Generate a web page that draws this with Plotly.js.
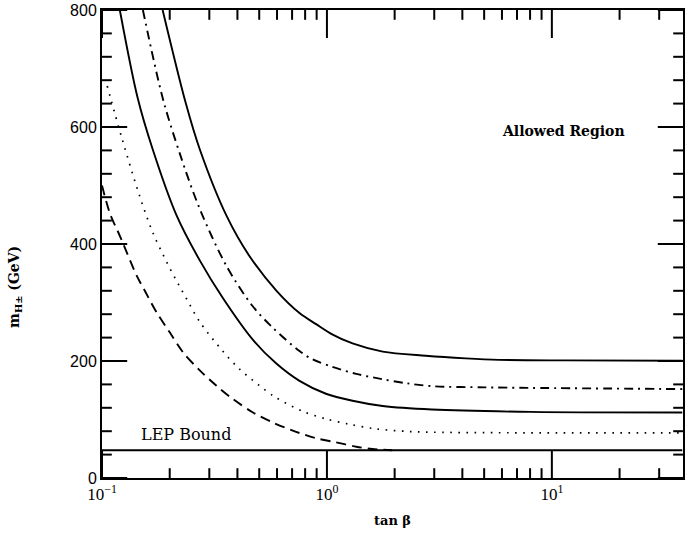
<!DOCTYPE html>
<html>
<head>
<meta charset="utf-8">
<script src="https://cdn.plot.ly/plotly-3.0.1.min.js"></script>
<style>html,body{margin:0;padding:0;background:#fff;}#chart{width:685px;height:534px;}</style>
</head>
<body>
<div id="chart"></div>
<script>
// Outer solid curve
const tanA = [0.186, 0.236, 0.272, 0.358, 0.453, 0.597, 0.755, 0.895, 1.05, 1.30, 1.77, 2.75, 4.14, 5.81, 11.5, 38];
const mA   = [800, 640, 562, 448, 379, 320, 282, 263, 246, 230, 216, 209, 204.5, 202, 201, 200.5];
// Dash-dot curve
const tanB = [0.152, 0.186, 0.222, 0.272, 0.358, 0.467, 0.574, 0.755, 0.861, 1.057, 1.35, 1.76, 2.25, 2.93, 5.0, 8.1, 38];
const mB   = [800, 650, 554, 460, 362, 294, 257, 217, 203, 190, 178, 169, 162, 157, 155, 154, 152];
// Inner solid curve
const tanC = [0.120, 0.144, 0.168, 0.215, 0.272, 0.344, 0.469, 0.594, 0.755, 0.99, 1.30, 1.77, 2.93, 8.1, 38];
const mC   = [800, 650, 562, 448, 372, 308, 236, 196, 166, 144, 132, 123, 117, 113, 112];
// Dotted curve
const tanD = [0.1055, 0.123, 0.147, 0.168, 0.194, 0.218, 0.238, 0.272, 0.344, 0.409, 0.501, 0.574, 0.615, 0.78, 0.99, 1.256, 1.65, 2.32, 3.25, 38];
const mD   = [670, 579, 482, 420, 369, 332, 306, 267, 217, 186, 158, 141, 134, 114, 101, 92, 84, 79.5, 78, 77];
// Dashed curve
const tanE = [0.100, 0.1085, 0.120, 0.143, 0.155, 0.175, 0.200, 0.229, 0.272, 0.322, 0.382, 0.469, 0.574, 0.705, 0.895, 1.097, 1.35, 1.59, 1.95];
const mE   = [500, 452, 414, 345, 320, 283, 249, 215, 184, 158, 135, 112, 95, 81, 68, 61, 53.5, 49.6, 47.5];
// LEP bound
const tanLEP = [0.1, 38];
const mLEP   = [47.5, 47.5];

const xRangeLog = [-1, 1.583];
const yRange = [0, 800];
const xTickVals = [0.1, 1, 10];
const xTickText = ['10<sup>−1</sup>', '10<sup>0</sup>', '10<sup>1</sup>'];
const xMinorVals = [0.2, 0.3, 0.4, 0.5, 0.6, 0.7, 0.8, 0.9, 2, 3, 4, 5, 6, 7, 8, 9, 20, 30];
const yTickVals = [0, 200, 400, 600, 800];
const yMinorVals = [40, 80, 120, 160, 240, 280, 320, 360, 440, 480, 520, 560, 640, 680, 720, 760];

const black = '#000';
const traces = [
  {x: tanA, y: mA, mode: 'lines', line: {color: black, width: 1.9, shape: 'spline', smoothing: 0.9}},
  {x: tanB, y: mB, mode: 'lines', line: {color: black, width: 1.9, dash: '9px,5px,2px,5px', shape: 'spline', smoothing: 0.9}},
  {x: tanC, y: mC, mode: 'lines', line: {color: black, width: 1.9, shape: 'spline', smoothing: 0.9}},
  {x: tanD, y: mD, mode: 'lines', line: {color: black, width: 1.7, dash: '1.6px,6.5px', shape: 'spline', smoothing: 0.9}},
  {x: tanE, y: mE, mode: 'lines', line: {color: black, width: 1.9, dash: '10px,6px', shape: 'spline', smoothing: 0.9}},
  {x: tanLEP, y: mLEP, mode: 'lines', line: {color: black, width: 1.9}}
];

// Inside tick marks on all four sides: line markers centred on the frame,
// the outer half clipped away by the plot area.
const xLo = Math.pow(10, xRangeLog[0]), xHi = Math.pow(10, xRangeLog[1]);
function tickTrace(xs, ys, symbol, size) {
  return {x: xs, y: ys, mode: 'markers', cliponaxis: true, hoverinfo: 'skip',
    marker: {symbol: symbol, size: size, color: black, line: {color: black, width: 2}}};
}
[yRange[0], yRange[1]].forEach(edge => {
  traces.push(tickTrace(xTickVals, xTickVals.map(() => edge), 'line-ns-open', 40));
  traces.push(tickTrace(xMinorVals, xMinorVals.map(() => edge), 'line-ns-open', 14));
});
[xLo, xHi].forEach(edge => {
  traces.push(tickTrace(yTickVals.map(() => edge), yTickVals, 'line-ew-open', 36));
  traces.push(tickTrace(yMinorVals.map(() => edge), yMinorVals, 'line-ew-open', 14));
});

const layout = {
  width: 685, height: 534,
  margin: {l: 102, r: 2, t: 10, b: 56},
  paper_bgcolor: '#fff', plot_bgcolor: '#fff',
  showlegend: false,
  xaxis: {
    type: 'log', range: xRangeLog,
    tickmode: 'array', tickvals: xTickVals, ticktext: xTickText,
    ticks: '', showline: true, linewidth: 2, linecolor: black, mirror: true,
    showgrid: false, zeroline: false,
    tickfont: {family: 'Liberation Serif', size: 17, color: black},
    title: {text: '<b>tan β</b>', font: {family: 'DejaVu Serif', size: 13, color: black}, standoff: 12}
  },
  yaxis: {
    range: yRange,
    tickmode: 'array', tickvals: yTickVals,
    ticks: '', showline: true, linewidth: 2, linecolor: black, mirror: true,
    showgrid: false, zeroline: false,
    tickfont: {family: 'Liberation Sans', size: 16, color: black}
  },
  annotations: [
    {text: '<b>m<sub>H±</sub> (GeV)</b>', xref: 'paper', yref: 'paper', x: -0.15, y: 0.408,
     xanchor: 'center', yanchor: 'middle', textangle: -90, showarrow: false,
     font: {family: 'DejaVu Serif', size: 14, color: black}},
    {text: '<b>Allowed Region</b>', xref: 'paper', yref: 'y', x: 0.795, y: 593, xanchor: 'center', showarrow: false,
     font: {family: 'DejaVu Serif', size: 14, color: black}},
    {text: 'LEP Bound', xref: 'paper', yref: 'y', x: 0.145, y: 74, xanchor: 'center', showarrow: false,
     font: {family: 'DejaVu Serif', size: 16, color: black}}
  ]
};

Plotly.newPlot('chart', traces, layout, {staticPlot: true, displayModeBar: false});
</script>
</body>
</html>
